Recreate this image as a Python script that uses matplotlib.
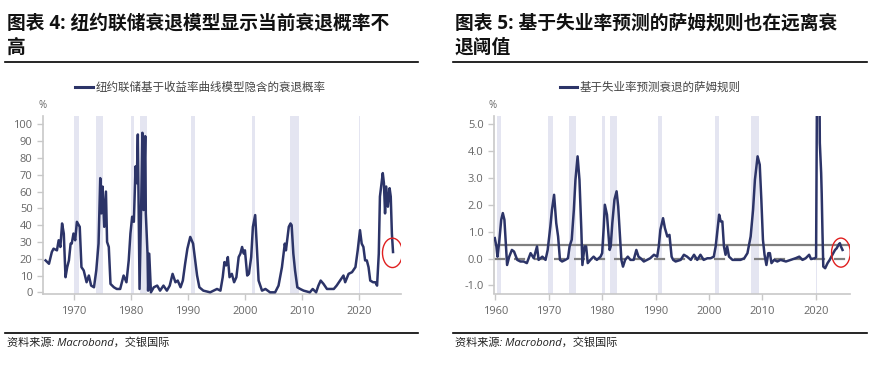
import numpy as np
import matplotlib
matplotlib.use('Agg')
import matplotlib.pyplot as plt
from matplotlib.lines import Line2D
from matplotlib.patches import Ellipse

plt.rcParams['font.family'] = ['Open Sans', 'Noto Sans CJK SC', 'DejaVu Sans']

# ---- data ----
ny_years = [1965.0, 1965.6, 1966.1, 1966.4, 1967.0, 1967.3, 1967.6, 1967.9, 1968.2, 1968.5,
            1968.8, 1969.1, 1969.4, 1969.6, 1969.9, 1970.2, 1970.5, 1971.0, 1971.3, 1971.7,
            1972.2, 1972.6, 1973.0, 1973.5, 1973.9, 1974.3, 1974.6, 1974.8, 1975.0, 1975.3,
            1975.6, 1975.8, 1976.1, 1976.4, 1977.0, 1977.5, 1978.1, 1978.7, 1979.2, 1979.6,
            1979.9, 1980.2, 1980.5, 1980.8, 1981.0, 1981.2, 1981.5, 1981.8, 1982.0, 1982.2,
            1982.5, 1982.6, 1982.9, 1983.0, 1983.2, 1983.5, 1984.0, 1984.6, 1985.1, 1985.7,
            1986.3, 1986.8, 1987.3, 1987.8, 1988.2, 1988.7, 1989.1, 1989.5, 1989.9, 1990.4,
            1990.9, 1991.2, 1991.6, 1992.0, 1992.7, 1993.9, 1995.1, 1995.7, 1996.1, 1996.4,
            1996.7, 1997.0, 1997.3, 1997.7, 1998.1, 1998.5, 1998.9, 1999.2, 1999.5, 1999.8,
            2000.0, 2000.4, 2000.7, 2001.1, 2001.4, 2001.8, 2002.1, 2002.4, 2003.0, 2003.6,
            2004.4, 2005.3, 2005.9, 2006.5, 2007.0, 2007.2, 2007.7, 2008.0, 2008.2, 2008.5,
            2008.8, 2009.2, 2009.7, 2010.3, 2011.4, 2011.9, 2012.5, 2012.9, 2013.3, 2013.8,
            2014.4, 2015.6, 2016.1, 2016.7, 2017.3, 2017.6, 2018.2, 2018.8, 2019.4, 2019.8,
            2020.2, 2020.5, 2020.8, 2021.1, 2021.4, 2021.7, 2022.0, 2022.5, 2022.9, 2023.2,
            2023.5, 2023.7, 2024.2, 2024.4, 2024.6, 2024.8, 2025.1, 2025.4, 2025.6, 2025.8,
            2026.0]
ny_prob = [19, 17, 24, 26, 25, 31, 27, 41, 35, 9,
           15, 19, 29, 29, 35, 31, 42, 39, 15, 13,
           6, 10, 4, 3, 13, 29, 68, 47, 63, 39,
           60, 30, 27, 5, 3, 2, 2, 10, 6, 19,
           35, 45, 42, 75, 65, 94, 2, 55, 95, 49,
           93, 47, 23, 1, 23, 0, 3, 4, 1, 4,
           1, 4, 11, 6, 7, 3, 7, 17, 26, 33,
           29, 21, 10, 3, 1, 0, 2, 1, 9, 18,
           16, 21, 9, 11, 6, 9, 21, 23, 27, 23,
           25, 10, 11, 21, 39, 46, 27, 7, 1, 2,
           0, 0, 4, 15, 29, 25, 39, 41, 40, 23,
           13, 3, 2, 1, 0, 2, 0, 4, 7, 5,
           2, 2, 4, 7, 10, 6, 11, 12, 15, 25,
           37, 29, 27, 19, 19, 15, 7, 6, 6, 4,
           23, 57, 71, 65, 47, 63, 51, 62, 57, 35,
           24]

sahm_years = [1959.9, 1960.2, 1960.4, 1960.7, 1961.1, 1961.4, 1961.7, 1962.0, 1962.2, 1962.6,
              1963.1, 1963.5, 1964.1, 1964.7, 1965.3, 1965.9, 1966.6, 1967.2, 1967.8, 1968.1,
              1968.8, 1969.4, 1969.8, 1970.3, 1970.6, 1971.0, 1971.4, 1971.75, 1972.1, 1972.5,
              1973.1, 1973.6, 1973.9, 1974.3, 1974.7, 1975.0, 1975.4, 1975.75, 1976.1, 1976.3,
              1976.7, 1977.0, 1977.3, 1977.8, 1978.4, 1979.0, 1979.7, 1980.0, 1980.3, 1980.5,
              1980.9, 1981.4, 1981.6, 1981.9, 1982.3, 1982.7, 1983.0, 1983.3, 1983.6, 1983.9,
              1984.3, 1984.8, 1985.3, 1985.9, 1986.4, 1986.8, 1987.2, 1987.8, 1988.4, 1989.0,
              1989.7, 1990.3, 1990.6, 1990.9, 1991.4, 1991.75, 1992.2, 1992.6, 1993.0, 1993.3,
              1993.75, 1994.7, 1995.3, 1995.9, 1996.6, 1997.2, 1997.8, 1998.4, 1999.0, 1999.7,
              2000.3, 2000.9, 2001.25, 2001.6, 2001.9, 2002.2, 2002.5, 2002.8, 2003.1, 2003.4,
              2003.75, 2004.4, 2005.0, 2005.9, 2006.6, 2007.2, 2007.8, 2008.25, 2008.6, 2009.1,
              2009.5, 2009.8, 2010.1, 2010.4, 2010.75, 2011.1, 2011.4, 2011.7, 2012.2, 2012.8,
              2013.4, 2014.4, 2015.3, 2016.2, 2016.9, 2017.5, 2018.1, 2018.75, 2019.1, 2019.8,
              2020.05, 2020.3, 2020.6, 2020.75, 2021.0, 2021.1, 2021.25, 2021.4, 2021.75, 2022.2,
              2022.6, 2023.1, 2023.6, 2023.9, 2024.25, 2024.5, 2024.7, 2025.0]
sahm_val = [0.76, 0.45, 0.07, 0.57, 1.44, 1.69, 1.44, 0.45, -0.24, 0.07,
            0.32, 0.26, -0.05, -0.11, -0.11, -0.17, 0.20, 0.01, 0.45, -0.05,
            0.07, -0.05, 0.32, 1.19, 1.81, 2.37, 1.32, 0.82, -0.05, -0.11,
            -0.05, 0.01, 0.45, 0.70, 1.81, 2.93, 3.80, 2.93, 1.07, -0.24,
            0.45, 0.45, -0.17, -0.05, 0.07, -0.05, 0.07, 0.20, 1.19, 2.00,
            1.63, 0.32, 0.45, 1.32, 2.19, 2.50, 1.94, 0.94, -0.05, -0.30,
            -0.05, 0.07, -0.05, -0.05, 0.32, 0.07, 0.01, -0.11, -0.05, 0.01,
            0.14, 0.07, 0.45, 1.07, 1.50, 1.13, 0.82, 0.88, 0.07, -0.05,
            -0.11, -0.05, 0.14, 0.07, -0.05, 0.14, -0.05, 0.14, -0.05, 0.01,
            0.01, 0.07, 0.45, 1.07, 1.63, 1.38, 1.38, 0.45, 0.14, 0.45,
            0.07, -0.05, -0.05, -0.05, 0.01, 0.20, 0.82, 1.81, 2.93, 3.80,
            3.49, 2.19, 0.70, 0.14, -0.24, 0.20, 0.20, -0.17, -0.05, -0.11,
            -0.05, -0.11, -0.05, 0.01, 0.07, -0.05, 0.01, 0.14, -0.02, 0.01,
            0.05, 9.30, 9.00, 4.30, 3.18, 2.43, 0.94, -0.30, -0.36, -0.17,
            -0.05, 0.14, 0.32, 0.38, 0.51, 0.57, 0.45, 0.32]

# NBER recessions (start, end)
rec_start = [1960.33, 1969.92, 1973.83, 1980.0, 1981.5, 1990.5, 2001.17, 2007.92, 2020.08]
rec_end = [1961.08, 1970.83, 1975.17, 1980.5, 1982.83, 1991.17, 2001.83, 2009.42, 2020.25]

sahm_threshold = 0.5

title_l = '图表 4: 纽约联储衰退模型显示当前衰退概率不\n高'
title_r = '图表 5: 基于失业率预测的萨姆规则也在远离衰\n退阈值'
legend_l = '纽约联储基于收益率曲线模型隐含的衰退概率'
legend_r = '基于失业率预测衰退的萨姆规则'
source = '资料来源: Macrobond，交银国际'

# ---- style ----
W, H = 870, 367
navy = '#2c3468'
shade = '#e4e5f1'
spine_c = '#c8c8c8'
tick_c = '#666666'

fig = plt.figure(figsize=(W / 100, H / 100), dpi=100)


def fx(px):
    return px / W


def fy(py):
    return 1 - py / H


def style_axes(ax):
    for s in ['top', 'right']:
        ax.spines[s].set_visible(False)
    for s in ['left', 'bottom']:
        ax.spines[s].set_color(spine_c)
        ax.spines[s].set_linewidth(1.2)
    ax.tick_params(axis='both', colors=spine_c, labelcolor=tick_c, labelsize=8,
                   length=4, width=1)
    ax.tick_params(axis='x', pad=5)


ax1 = fig.add_axes([fx(43), fy(294), fx(401 - 43), (294 - 116) / H])
ax2 = fig.add_axes([fx(494), fy(293.5), fx(850 - 494), (293.5 - 116) / H])

# left chart
for a, b in zip(rec_start, rec_end):
    if a > 1965:
        ax1.axvspan(a, b, color=shade, lw=0, zorder=0)
ax1.plot(ny_years, ny_prob, color=navy, lw=1.8, zorder=3)
ax1.set_xlim(1964.55, 2027.4)
ax1.set_ylim(-1, 105)
ax1.set_yticks(np.arange(0, 101, 10))
ax1.set_xticks([1970, 1980, 1990, 2000, 2010, 2020])
style_axes(ax1)
ax1.add_patch(Ellipse((2025.9, 23.5), 3.5, 17.5, fill=False, ec='#e02020', lw=1, zorder=4))

# right chart
for a, b in zip(rec_start, rec_end):
    ax2.axvspan(a, b, color=shade, lw=0, zorder=0)
ax2.axhline(sahm_threshold, color='#808080', lw=1.6, zorder=2)
ax2.axhline(0, color='#808080', lw=1.6, ls=(0, (5, 4)), zorder=2)
ax2.plot(sahm_years, sahm_val, color=navy, lw=1.8, zorder=3)
ax2.set_xlim(1959.75, 2026.4)
ax2.set_ylim(-1.3, 5.3)
ax2.set_yticks(np.arange(-1, 5.01, 1))
ax2.set_yticklabels(['%.1f' % v for v in np.arange(-1, 5.01, 1)])
ax2.set_xticks([1960, 1970, 1980, 1990, 2000, 2010, 2020])
style_axes(ax2)
ax2.add_patch(Ellipse((2024.7, 0.22), 3.5, 1.08, fill=False, ec='#e02020', lw=1, zorder=4))

# titles
fig.text(fx(7), fy(14), title_l, fontsize=13.5, fontweight='bold', va='top', ha='left',
         linespacing=1.25, color='#111111')
fig.text(fx(455), fy(14), title_r, fontsize=13.5, fontweight='bold', va='top', ha='left',
         linespacing=1.25, color='#111111')
for x0, x1 in [(5, 418), (453, 867)]:
    fig.add_artist(Line2D([fx(x0), fx(x1)], [fy(62), fy(62)], color='black', lw=1.2))
    fig.add_artist(Line2D([fx(x0), fx(x1)], [fy(333), fy(333)], color='black', lw=1.2))

# legends
fig.add_artist(Line2D([fx(75), fx(93)], [fy(87), fy(87)], color=navy, lw=2.2))
fig.text(fx(96), fy(87), legend_l, fontsize=8.3, color='#444444', va='center', ha='left')
fig.add_artist(Line2D([fx(560), fx(577)], [fy(87), fy(87)], color=navy, lw=2.2))
fig.text(fx(580), fy(87), legend_r, fontsize=8.3, color='#444444', va='center', ha='left')

# unit labels
fig.text(fx(43), fy(106), '%', fontsize=7, color=tick_c, ha='center', va='center')
fig.text(fx(493), fy(106), '%', fontsize=7, color=tick_c, ha='center', va='center')

# sources
fig.text(fx(7), fy(343), source, fontsize=8, style='italic', color='#222222',
         va='center', ha='left')
fig.text(fx(455), fy(343), source, fontsize=8, style='italic', color='#222222',
         va='center', ha='left')

fig.savefig('out.png', dpi=100, facecolor='white')
